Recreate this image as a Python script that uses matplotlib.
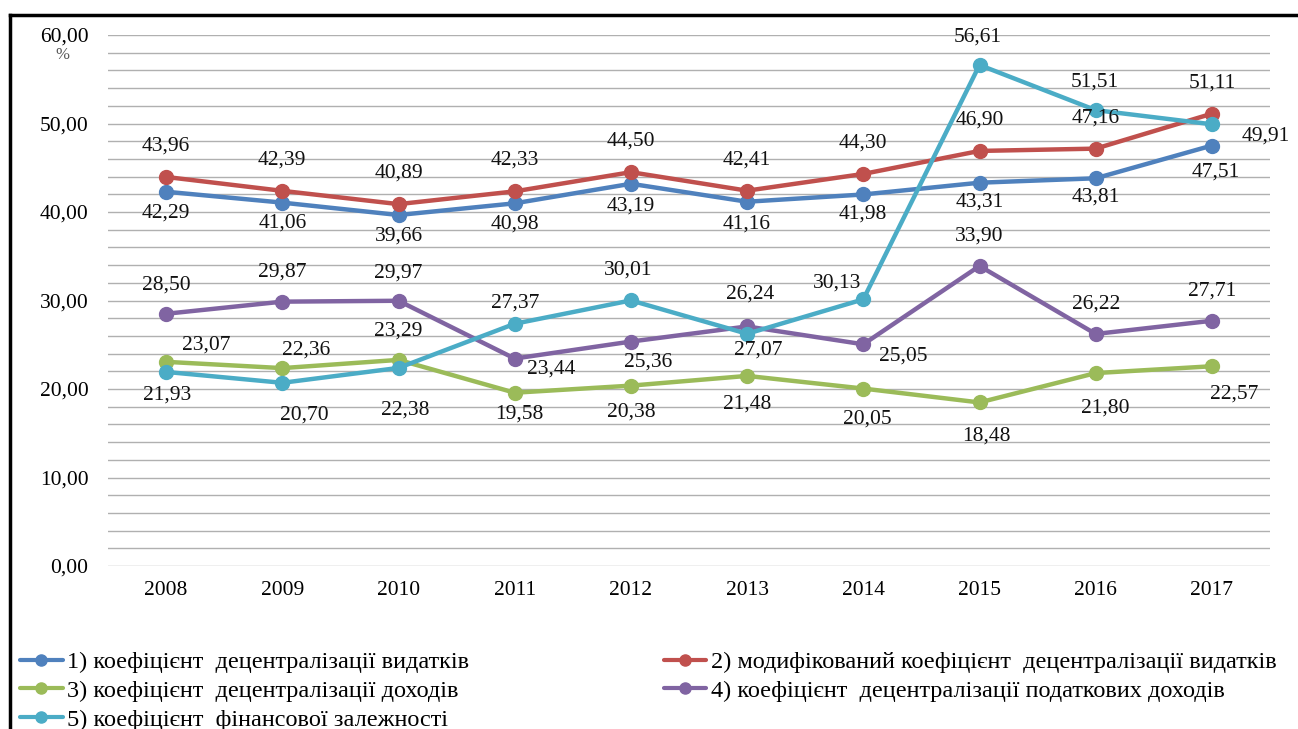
import matplotlib
matplotlib.use("Agg")
import matplotlib.pyplot as plt
from matplotlib.lines import Line2D

plt.rcParams['font.family'] = ['Liberation Serif', 'DejaVu Serif']

years = ['2008', '2009', '2010', '2011', '2012', '2013', '2014', '2015', '2016', '2017']
s1 = [42.29, 41.06, 39.66, 40.98, 43.19, 41.16, 41.98, 43.31, 43.81, 47.51]
s2 = [43.96, 42.39, 40.89, 42.33, 44.50, 42.41, 44.30, 46.90, 47.16, 51.11]
s3 = [23.07, 22.36, 23.29, 19.58, 20.38, 21.48, 20.05, 18.48, 21.80, 22.57]
s4 = [28.50, 29.87, 29.97, 23.44, 25.36, 27.07, 25.05, 33.90, 26.22, 27.71]
s5 = [21.93, 20.70, 22.38, 27.37, 30.01, 26.24, 30.13, 56.61, 51.51, 49.91]
names = ['1) коефіцієнт  децентралізації видатків',
         '2) модифікований коефіцієнт  децентралізації видатків',
         '3) коефіцієнт  децентралізації доходів',
         '4) коефіцієнт  децентралізації податкових доходів',
         '5) коефіцієнт  фінансової залежності']
yticks = [0, 10, 20, 30, 40, 50, 60]

colors = ['#4F81BD', '#C0504D', '#9BBB59', '#8064A2', '#4BACC6']

# label offsets in pixels (dx, dy) per series
off1 = [(0, -21), (0, -20), (0, -21), (0, -21), (0, -22), (0, -22), (0, -20), (0, -19), (0, -19), (4, -27)]
off2 = [(0, 31)] * 10
off3 = [(40, 17), (24, 18), (0, 29), (5, -21), (0, -26), (0, -28), (4, -30), (7, -34), (10, -35), (22, -28)]
off4 = [(0, 29), (0, 30), (0, 28), (36, -10), (17, -20), (11, -24), (40, -12), (0, 30), (0, 30), (0, 30)]
off5 = [(1, -23), (22, -32), (7, -42), (0, 21), (-3, 30), (3, 40), (-26, 16), (-2, 28), (-1, 28), (54, -12)]

W, H = 1298, 729
fig = plt.figure(figsize=(W / 100, H / 100), dpi=100)
ax = fig.add_axes([108 / W, 1 - 566 / H, (1270 - 108) / W, (566 - 35) / H])

x = list(range(len(years)))
series = [s1, s2, s3, s4, s5]
offs = [off1, off2, off3, off4, off5]
handles = []
for s, c, nm, of in zip(series, colors, names, offs):
    h, = ax.plot(x, s, color=c, lw=3.2, marker='o', ms=10, label=nm, solid_capstyle='round')
    handles.append(h)
    for xi, v, (dx, dy) in zip(x, s, of):
        ax.annotate(f'{v:.2f}'.replace('.', ','), (xi, v), xytext=(dx, dy),
                    textcoords='offset pixels', ha='center', va='center',
                    fontsize=15.5, color='#111111')

ax.set_xlim(-0.5, 9.5)
ax.set_ylim(0, 60)
ax.set_yticks(yticks)
ax.set_yticklabels([f'{t:.2f}'.replace('.', ',') for t in yticks], fontsize=15.5)
ax.set_yticks(range(0, 61, 2), minor=True)
ax.set_xticks(x)
ax.set_xticklabels(years, fontsize=15.5)
ax.tick_params(axis='both', which='both', length=0)
ax.tick_params(axis='y', pad=14)
ax.tick_params(axis='x', pad=11)
ax.grid(True, axis='y', which='both', color='#b0b0b0', lw=1.0)
ax.set_axisbelow(True)
for sp in ax.spines.values():
    sp.set_visible(False)

fig.text(62 / W, 1 - 55 / H, '%', fontsize=12, color='#555555', ha='center', va='center')

order = [0, 2, 4, 1, 3]
leg = fig.legend([handles[i] for i in order], [names[i] for i in order],
                 loc='upper left', bbox_to_anchor=(20 / W, 1 - 651 / H), ncol=2,
                 frameon=False, fontsize=17.5, handlelength=1.75, handletextpad=0.2,
                 labelspacing=0.28, columnspacing=8.0, borderaxespad=0, borderpad=0)
for lh in leg.legend_handles:
    lh.set_markersize(8)
    lh.set_linewidth(3)

# figure frame lines (top and left)
fig.add_artist(Line2D([10 / W, 1], [1 - 15 / H, 1 - 15 / H], color='black', lw=2.5, transform=fig.transFigure))
fig.add_artist(Line2D([10 / W, 10 / W], [0, 1 - 15 / H], color='black', lw=2.5, transform=fig.transFigure))

fig.savefig('out.png', dpi=100)
